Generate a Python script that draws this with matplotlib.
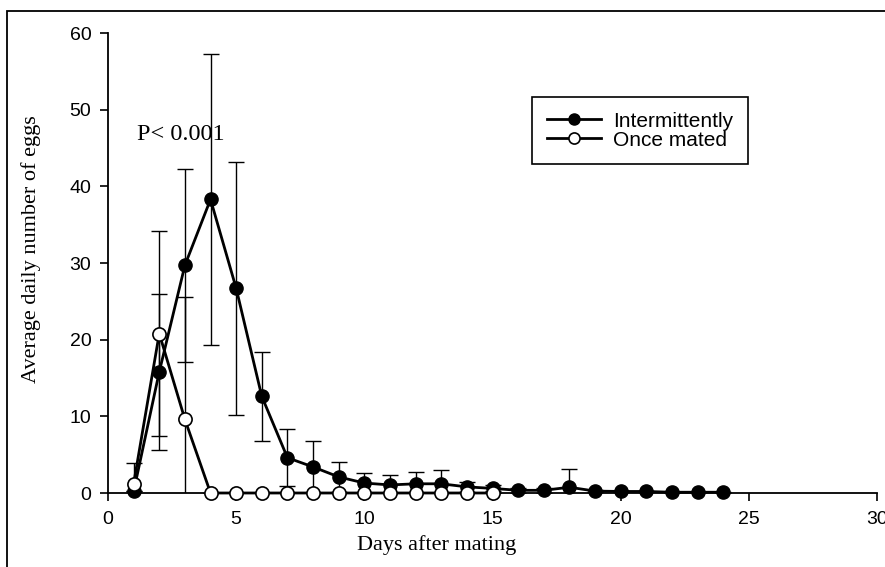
import matplotlib
matplotlib.use("Agg")
import matplotlib.pyplot as plt
from matplotlib.patches import Rectangle

days_int = list(range(1, 25))
mean_int = [0.2, 15.8, 29.7, 38.3, 26.7, 12.6, 4.6, 3.4, 2.1, 1.3, 1.05, 1.2, 1.2,
            0.8, 0.6, 0.35, 0.35, 0.75, 0.25, 0.2, 0.2, 0.1, 0.1, 0.1]
err_int = [0.0, 10.2, 12.6, 19.0, 16.5, 5.8, 3.7, 3.4, 2.0, 1.3, 1.3, 1.6, 1.75,
           0.7, 0.4, 0.35, 0.35, 2.35, 0.1, 0.1, 0.1, 0.05, 0.05, 0.05]

days_once = list(range(1, 16))
mean_once = [1.2, 20.8, 9.6, 0, 0, 0, 0, 0, 0, 0, 0, 0, 0, 0, 0]
err_once = [2.7, 13.4, 16.0, 0, 0, 0, 0, 0, 0, 0, 0, 0, 0, 0, 0]

xticks = [0, 5, 10, 15, 20, 25, 30]
yticks = [0, 10, 20, 30, 40, 50, 60]

fig = plt.figure(figsize=(8.85, 5.67), dpi=100)
fig.patches.append(Rectangle((7/885, -0.1), 1.2, 1.1 - 11/567, transform=fig.transFigure,
                             fill=False, edgecolor='black', linewidth=1.3, zorder=0))

ax = fig.add_axes([108/885, (567-493)/567, (877-108)/885, (493-33)/567])

ax.errorbar(days_int, mean_int, yerr=err_int, fmt='none', ecolor='black',
            elinewidth=1.0, capsize=5.5, capthick=1.0, zorder=2)
ax.errorbar(days_once, mean_once, yerr=err_once, fmt='none', ecolor='black',
            elinewidth=1.0, capsize=5.5, capthick=1.0, zorder=2)

ax.plot(days_int, mean_int, '-o', color='black', markerfacecolor='black',
        markeredgecolor='black', markersize=9.5, linewidth=2.0,
        label='Intermittently', clip_on=False, zorder=3)
ax.plot(days_once, mean_once, '-o', color='black', markerfacecolor='white',
        markeredgecolor='black', markersize=9.5, linewidth=2.0, markeredgewidth=1.2,
        label='Once mated', clip_on=False, zorder=4)

ax.set_xlim(0, 30)
ax.set_ylim(0, 60)
ax.set_xticks(xticks)
ax.set_yticks(yticks)
for s in ['top', 'right']:
    ax.spines[s].set_visible(False)
for s in ['left', 'bottom']:
    ax.spines[s].set_linewidth(1.3)
ax.tick_params(direction='out', length=6, width=1.2, labelsize=14)
ax.tick_params(axis='y', pad=6)
ax.tick_params(axis='x', pad=7)
for lab in ax.get_xticklabels() + ax.get_yticklabels():
    lab.set_fontfamily('Liberation Sans')

ax.set_xlabel('Days after mating', fontfamily='Liberation Serif', fontsize=16)
ax.set_ylabel('Average daily number of eggs', fontfamily='Liberation Serif', fontsize=16)
ax.xaxis.set_label_coords((436.5-108)/769, (493-535)/460)
ax.yaxis.set_label_coords((41-108)/769, (493-249)/460)

ax.text(1.13, 46.1, 'P< 0.001', fontfamily='Liberation Serif', fontsize=17.5,
        ha='left', va='baseline')

leg = ax.legend(loc='upper left', bbox_to_anchor=((532-108)/769, (493-97)/460),
                frameon=True, fancybox=False, edgecolor='black', framealpha=1,
                prop={'family': 'Liberation Sans', 'size': 15}, handlelength=2.6,
                labelspacing=0.0, borderpad=0.7, handletextpad=0.6, borderaxespad=0)
leg.get_frame().set_linewidth(1.2)
for h in leg.legend_handles:
    h.set_markersize(8)

fig.canvas.draw()
# widen the legend frame slightly on the right to match the reference box
frame = leg.get_frame()
frame.set_width(frame.get_width() + 8)

fig.savefig('out.png', dpi=100)
